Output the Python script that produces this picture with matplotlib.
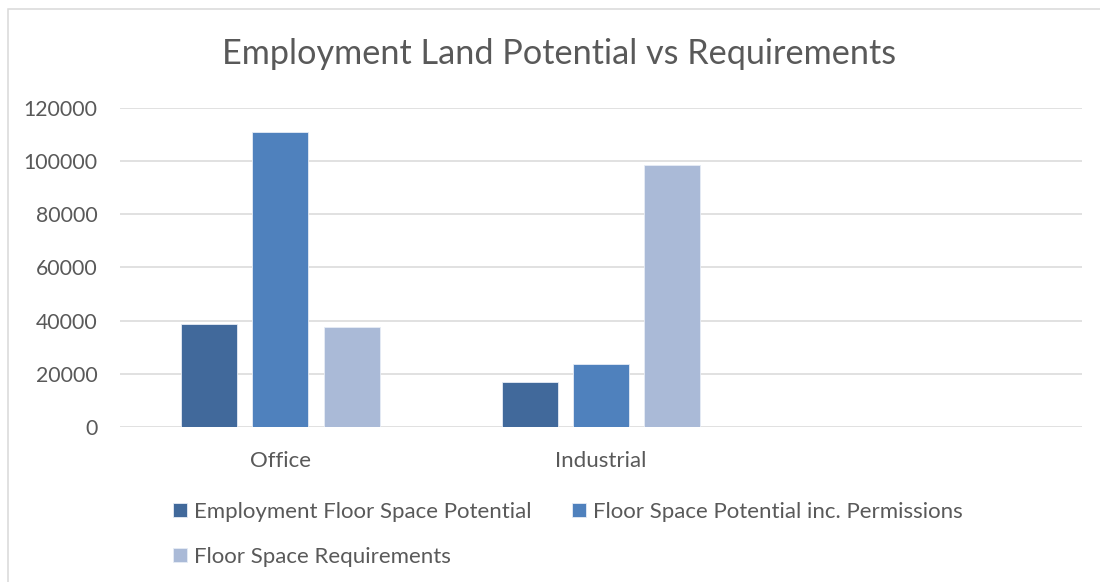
import numpy as np
import matplotlib
matplotlib.use('Agg')
import matplotlib.pyplot as plt
from matplotlib.patches import Rectangle

# データ
categories = ['Office', 'Industrial', '']
series_names = ['Employment Floor Space Potential',
                'Floor Space Potential inc. Permissions',
                'Floor Space Requirements']
employment_potential = [38600, 16900, np.nan]
potential_inc_permissions = [110900, 23600, np.nan]
requirements = [37500, 98300, np.nan]
yticks = [0, 20000, 40000, 60000, 80000, 100000, 120000]

colors = ['#41699B', '#4F81BD', '#AABAD7']
text_color = '#595959'
grid_color = '#D9D9D9'

plt.rcParams['font.family'] = ['Lato', 'DejaVu Sans']

fig = plt.figure(figsize=(11, 5.82), dpi=100)
ax = fig.add_axes([120 / 1100, 1 - 427.3 / 582, (1082 - 120) / 1100, (427.3 - 107.5) / 582])

x = np.arange(len(categories))
width = 0.1746
offset = 0.222
values = [employment_potential, potential_inc_permissions, requirements]
handles = []
for i, (name, vals) in enumerate(zip(series_names, values)):
    b = ax.bar(x + (i - 1) * offset, vals, width, color=colors[i], label=name,
               edgecolor='#E6ECF5', linewidth=0.6, zorder=3)
    handles.append(b)

ax.set_xlim(-0.5, len(categories) - 0.5)
ax.set_ylim(0, 120000)
ax.set_yticks(yticks)
ax.set_yticklabels([str(v) for v in yticks])
ax.set_xticks(x)
ax.set_xticklabels(categories)
ax.grid(axis='y', color=grid_color, linewidth=1.1, zorder=0)
ax.set_axisbelow(True)
for s in ax.spines.values():
    s.set_visible(False)
ax.tick_params(axis='both', length=0, colors=text_color)
ax.tick_params(axis='y', pad=16, labelsize=15.3)
ax.tick_params(axis='x', pad=17, labelsize=16)

# タイトル
fig.text(0.5086, 1 - 64 / 582, 'Employment Land Potential vs Requirements',
         ha='center', va='baseline', fontsize=24.7, color=text_color)

# 凡例（行優先に並べ替え）
order = [0, 2, 1]
leg = fig.legend([handles[i] for i in order], [series_names[i] for i in order],
                 ncol=2, loc='upper left', bbox_to_anchor=(173 / 1100, 1 - 502 / 582),
                 frameon=False, fontsize=16, borderpad=0, borderaxespad=0,
                 handlelength=0.63, handleheight=0.63, handletextpad=0.3,
                 columnspacing=1.85, labelspacing=1.12)
for t in leg.get_texts():
    t.set_color(text_color)

# 外枠
fig.add_artist(Rectangle((7.5 / 1100, -0.5), 2, 0.5 + 1 - 8.5 / 582,
                         transform=fig.transFigure, fill=False,
                         edgecolor=grid_color, linewidth=1.1))

fig.savefig('out.png', dpi=100)
